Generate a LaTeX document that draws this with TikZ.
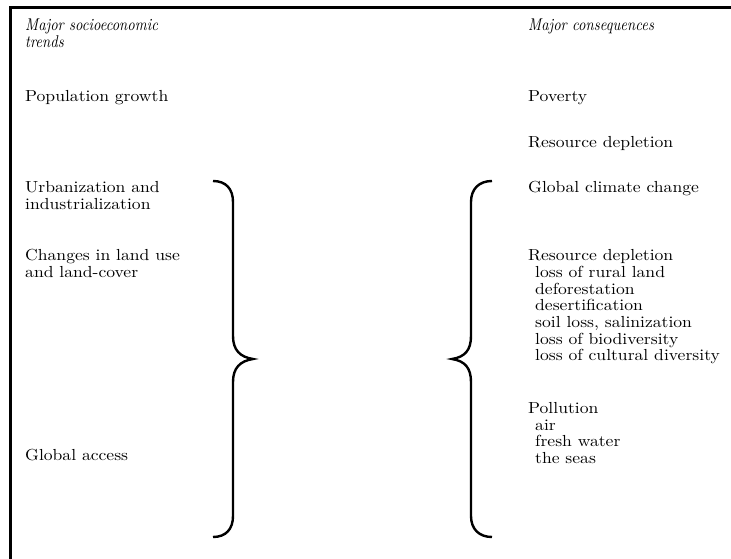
\documentclass[tikz,border=0pt]{standalone}
\usepackage{fontspec}
\setmainfont{lmroman10-regular.otf}[ItalicFont=lmroman10-italic.otf, FakeStretch=1.1]
\newfontfamily\headfont{lmroman10-italic.otf}[FakeStretch=0.86]
\begin{document}
\begin{tikzpicture}[x=1pt, y=-1pt,
  txt/.style={inner sep=0pt, anchor=base west, font=\fontsize{16}{17}\selectfont},
  head/.style={inner sep=0pt, anchor=base west, font=\headfont\fontsize{17}{15}\selectfont},
  frame/.style={line width=2.5pt, line cap=rect},
  bracestroke/.style={line width=2.4pt, line join=miter, line cap=butt}]
\useasboundingbox (0,0) rectangle (731,559);

% outer frame (continues past the page on the right and at the bottom)
\draw[frame] (10.5,565) -- (10.5,7.5) -- (740,7.5);

% left column: socioeconomic trends
\node[head] (hl1) at (25,31) {Major socioeconomic};
\node[head] (hl2) at (25,48) {trends};
\node[txt] (pop) at (25,102) {Population growth};
\node[txt] (urb1) at (25,192) {Urbanization and};
\node[txt] (urb2) at (25,209) {industrialization};
\node[txt] (land1) at (25,260) {Changes in land use};
\node[txt] (land2) at (25,277) {and land-cover};
\node[txt] (glob) at (25,460) {Global access};

% right column: consequences
\node[head] (hr) at (528,31) {Major consequences};
\node[txt] (pov) at (528,102) {Poverty};
\node[txt] (res) at (528,148) {Resource depletion};
\node[txt] (clim) at (528,192) {Global climate change};
\node[txt] (dep) at (528,260) {Resource depletion};
\node[txt] (dep1) at (535,277) {loss of rural land};
\node[txt] (dep2) at (535,294) {deforestation};
\node[txt] (dep3) at (535,310) {desertification};
\node[txt] (dep4) at (535,327) {soil loss, salinization};
\node[txt] (dep5) at (535,344) {loss of biodiversity};
\node[txt] (dep6) at (535,360) {loss of cultural diversity};
\node[txt] (pol) at (528,413) {Pollution};
\node[txt] (pol1) at (535,430) {air};
\node[txt] (pol2) at (535,446) {fresh water};
\node[txt] (pol3) at (535,463) {the seas};

% closing brace gathering the trends
\draw[bracestroke] (213,181) .. controls (226,181) and (233,189) .. (233,202)
  -- (233,336) .. controls (233,350) and (240,357) .. (253,359)
  .. controls (240,361) and (233,368) .. (233,382)
  -- (233,516) .. controls (233,529) and (226,537) .. (213,537);

% opening brace gathering the consequences
\draw[bracestroke] (492,181) .. controls (479,181) and (471,189) .. (471,202)
  -- (471,336) .. controls (471,350) and (465,357) .. (452,359)
  .. controls (465,361) and (471,368) .. (471,382)
  -- (471,516) .. controls (471,529) and (479,537) .. (492,537);
\end{tikzpicture}
\end{document}
